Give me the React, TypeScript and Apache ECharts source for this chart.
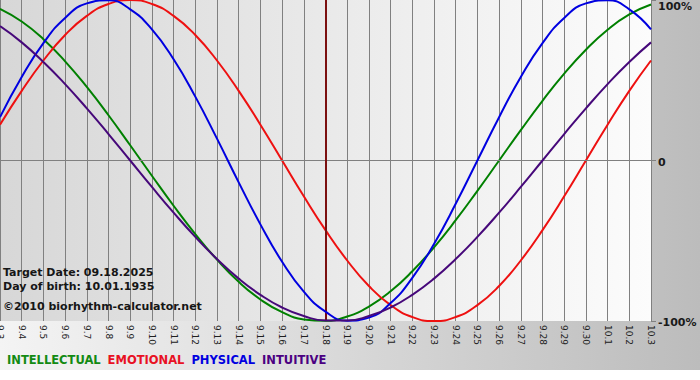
import React, { useEffect, useRef } from "react";
import * as echarts from "echarts";

const categories = [
  "9.3", "9.4", "9.5", "9.6", "9.7", "9.8", "9.9", "9.10", "9.11", "9.12", "9.13",
  "9.14", "9.15", "9.16", "9.17", "9.18", "9.19", "9.20", "9.21", "9.22", "9.23",
  "9.24", "9.25", "9.26", "9.27", "9.28", "9.29", "9.30", "10.1", "10.2", "10.3",
];

const intellectual = [
  94.5, 86.6, 75.6, 61.8, 45.8, 28.2, 9.5, -9.5, -28.2, -45.8, -61.8, -75.6, -86.6,
  -94.5, -99.0, -99.9, -97.2, -91.0, -81.5, -69.0, -54.1, -37.2, -18.9, 0, 18.9,
  37.2, 54.1, 69.0, 81.5, 91.0, 97.2,
];
const emotional = [
  22.3, 43.4, 62.3, 78.2, 90.1, 97.5, 100, 97.5, 90.1, 78.2, 62.3, 43.4, 22.3, 0,
  -22.3, -43.4, -62.3, -78.2, -90.1, -97.5, -100, -97.5, -90.1, -78.2, -62.3, -43.4,
  -22.3, 0, 22.3, 43.4, 62.3,
];
const physical = [
  27.0, 52.0, 73.1, 88.8, 97.9, 99.8, 94.2, 81.7, 63.1, 39.8, 13.6, -13.6, -39.8,
  -63.1, -81.7, -94.2, -99.8, -97.9, -88.8, -73.1, -52.0, -27.0, 0, 27.0, 52.0,
  73.1, 88.8, 97.9, 99.8, 94.2, 81.7,
];
const intuitive = [
  83.7, 73.6, 61.4, 47.6, 32.5, 16.5, 0, -16.5, -32.5, -47.6, -61.4, -73.6, -83.7,
  -91.6, -96.9, -99.7, -99.7, -96.9, -91.6, -83.7, -73.6, -61.4, -47.6, -32.5,
  -16.5, 0, 16.5, 32.5, 47.6, 61.4, 73.6,
];

const targetDay = "9.18";
const yTicks = [-100, 0, 100];

const seriesDefs = [
  { name: "INTELLECTUAL", data: intellectual, color: "#008000", legend: "#138a13" },
  { name: "EMOTIONAL", data: emotional, color: "#ee1010", legend: "#e81123" },
  { name: "PHYSICAL", data: physical, color: "#0000e0", legend: "#0000e0" },
  { name: "INTUITIVE", data: intuitive, color: "#46087a", legend: "#4b0082" },
];

const FONT = '"DejaVu Sans", Verdana, sans-serif';

export default function App() {
  const ref = useRef<HTMLDivElement>(null);

  useEffect(() => {
    if (!ref.current) return;
    const chart = echarts.init(ref.current, null, { renderer: "svg" });
    const W = 700;
    const plotLeft = 0;
    const plotRight = 651;
    const plotTop = 0;
    const plotBottom = 321;

    const option: any = {
      animation: false,
      backgroundColor: "#ffffff",
      grid: {
        left: plotLeft,
        right: W - plotRight,
        top: plotTop,
        bottom: 380 - plotBottom,
        containLabel: false,
        outerBoundsMode: "none",
      },
      legend: {
        left: 2,
        top: 354,
        itemWidth: 0,
        itemHeight: 0,
        itemGap: 2,
        icon: "rect",
        selectedMode: false,
        padding: 0,
        data: seriesDefs.map((s) => ({
          name: s.name,
          textStyle: {
            color: s.legend,
            fontWeight: "bold",
            fontSize: 11.5,
            fontFamily: FONT,
          },
        })),
      },
      graphic: [
        {
          type: "rect",
          z: -20,
          silent: true,
          shape: { x: 0, y: 0, width: W, height: 370 },
          style: {
            fill: new echarts.graphic.LinearGradient(0, 0, 1, 0, [
              { offset: 0, color: "#f4f4f4" },
              { offset: 1, color: "#bcbcbc" },
            ]),
          },
        },
        {
          type: "rect",
          z: -15,
          silent: true,
          shape: { x: plotLeft, y: plotTop, width: plotRight - plotLeft, height: plotBottom - plotTop },
          style: {
            fill: new echarts.graphic.LinearGradient(0, 0, 1, 0, [
              { offset: 0, color: "#d7d7d7" },
              { offset: 1, color: "#fcfcfc" },
            ]),
          },
        },
        {
          type: "text",
          z: 50,
          x: 3,
          y: 272,
          style: { text: "Target Date: 09.18.2025", fill: "#161616", font: `bold 11px ${FONT}`, verticalAlign: "middle" },
        },
        {
          type: "text",
          z: 50,
          x: 3,
          y: 286,
          style: { text: "Day of birth: 10.01.1935", fill: "#161616", font: `bold 11px ${FONT}`, verticalAlign: "middle" },
        },
        {
          type: "text",
          z: 50,
          x: 3,
          y: 306.5,
          style: { text: "©2010 biorhythm-calculator.net", fill: "#161616", font: `bold 11px ${FONT}`, verticalAlign: "middle" },
        },
      ],
      xAxis: {
        type: "category",
        data: categories,
        boundaryGap: false,
        axisLine: { show: true, lineStyle: { color: "#808080", width: 1 } },
        axisTick: { show: true, length: 5, interval: 0, lineStyle: { color: "#808080" } },
        axisLabel: {
          interval: 0,
          rotate: -90,
          margin: 4,
          color: "#202020",
          fontSize: 9,
          fontFamily: FONT,
        },
        splitLine: { show: true, interval: 0, lineStyle: { color: "#808080", width: 1 } },
      },
      yAxis: {
        type: "value",
        position: "right",
        min: yTicks[0],
        max: yTicks[yTicks.length - 1],
        interval: 100,
        axisLine: { show: true, lineStyle: { color: "#808080" } },
        axisTick: { show: true, length: 5, lineStyle: { color: "#808080" } },
        splitLine: { show: false },
        axisLabel: {
          margin: 7,
          formatter: (v: number) => {
            if (v === 100) return "{t|100%}";
            if (v === 0) return "{m|0}";
            return "{m|" + v + "%}";
          },
          rich: {
            t: { fontSize: 11, fontWeight: "bold", fontFamily: FONT, color: "#1a1a1a", padding: [13, 0, 0, 0] },
            m: { fontSize: 11, fontWeight: "bold", fontFamily: FONT, color: "#1a1a1a", padding: [3, 0, 0, 0] },
          },
        },
      },
      series: seriesDefs.map((s, i) => ({
        name: s.name,
        type: "line",
        data: s.data,
        smooth: true,
        symbol: "none",
        color: s.color,
        lineStyle: { color: s.color, width: 2 },
        z: 3 + i,
        markLine:
          i === 0
            ? {
                silent: true,
                symbol: ["none", "none"],
                label: { show: false },
                animation: false,
                data: [
                  { yAxis: 0, lineStyle: { color: "#808080", width: 1, type: "solid" } },
                  { xAxis: targetDay, lineStyle: { color: "#7b1010", width: 2, type: "solid" } },
                ],
              }
            : undefined,
      })),
    };

    chart.setOption(option);
    return () => chart.dispose();
  }, []);

  return (
    <div
      ref={ref}
      style={{ position: "absolute", left: 0, top: 0, width: 700, height: 380 }}
    />
  );
}
